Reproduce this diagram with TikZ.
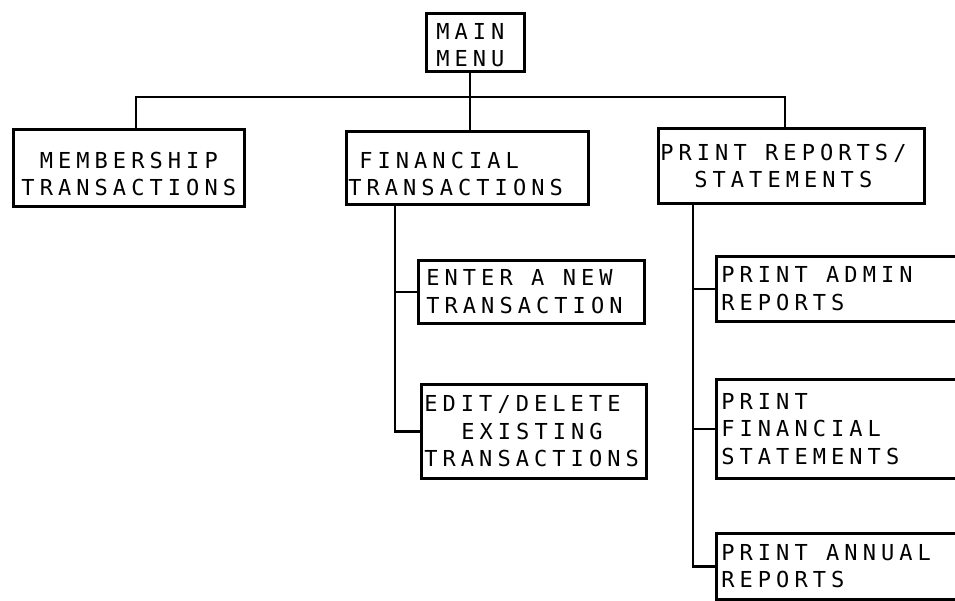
\documentclass[tikz,border=0pt]{standalone}
\usepackage{fontspec}
\newfontfamily\plotfont[LetterSpace=23]{DejaVu Sans Mono}
\newcommand{\gap}{\hspace*{18.4pt}}
\begin{document}
\begin{tikzpicture}[x=1pt,y=-1pt,
  box/.style={draw, line width=2.6pt, font=\plotfont\fontsize{22}{27.5}\selectfont,
    anchor=north west, inner ysep=0pt, align=left},
  conn/.style={line width=2.6pt}]
\useasboundingbox (0,0) rectangle (955,600);
\clip (0,0) rectangle (955,600);
\node[box, minimum width=98pt, minimum height=58pt, inner xsep=10pt, text width=78pt] (main) at (425,12) {\rule{0pt}{22pt}MAIN\\MENU};
\node[box, align=center, minimum width=231pt, minimum height=77pt, inner xsep=3pt, text width=225pt] (memb) at (12,128) {\rule{0pt}{29pt}MEMBERSHIP\\TRANSACTIONS};
\node[box, minimum width=242pt, minimum height=73pt, inner xsep=2pt, text width=238pt] (fin) at (345,130) {\rule{0pt}{29pt}\hspace*{11pt}FINANCIAL\\TRANSACTIONS};
\node[box, minimum width=266pt, minimum height=75pt, inner xsep=2pt, text width=262pt] (print) at (657,127) {PRINT\gap REPORTS/\\\hspace*{34pt}STATEMENTS};
\node[box, minimum width=226pt, minimum height=63pt, inner xsep=8pt, text width=210pt] (enter) at (417,259) {ENTER\gap A\gap NEW\\TRANSACTION};
\node[box, minimum width=225pt, minimum height=94pt, inner xsep=3pt, text width=219pt] (edit) at (420,383) {EDIT/DELETE\\\hspace*{37pt}EXISTING\\TRANSACTIONS};
\node[box, minimum width=300pt, minimum height=65pt, inner xsep=5pt, text width=290pt] (admin) at (715,255) {PRINT\gap ADMIN\\REPORTS};
\node[box, minimum width=300pt, minimum height=99pt, inner xsep=5pt, text width=290pt] (pfin) at (715,378) {PRINT\\FINANCIAL\\STATEMENTS};
\node[box, minimum width=300pt, minimum height=66pt, inner xsep=5pt, text width=290pt] (annual) at (715,532) {PRINT\gap ANNUAL\\REPORTS};
\coordinate (bm) at (470,97);
\coordinate (bl) at (136,97);
\coordinate (br) at (785,97);
\coordinate (fx) at (395,0);
\coordinate (px) at (693,0);
\draw[conn] (main.south -| bm) -- (fin.north -| bm);
\draw[conn] (memb.north -| bl) |- (br) -- (print.north -| br);
\draw[conn] (fin.south -| fx) |- (edit.west);
\draw[conn] (fx |- enter.west) -- (enter.west);
\draw[conn] (print.south -| px) |- (annual.west);
\draw[conn] (px |- admin.west) -- (admin.west);
\draw[conn] (px |- pfin.west) -- (pfin.west);
\end{tikzpicture}
\end{document}
